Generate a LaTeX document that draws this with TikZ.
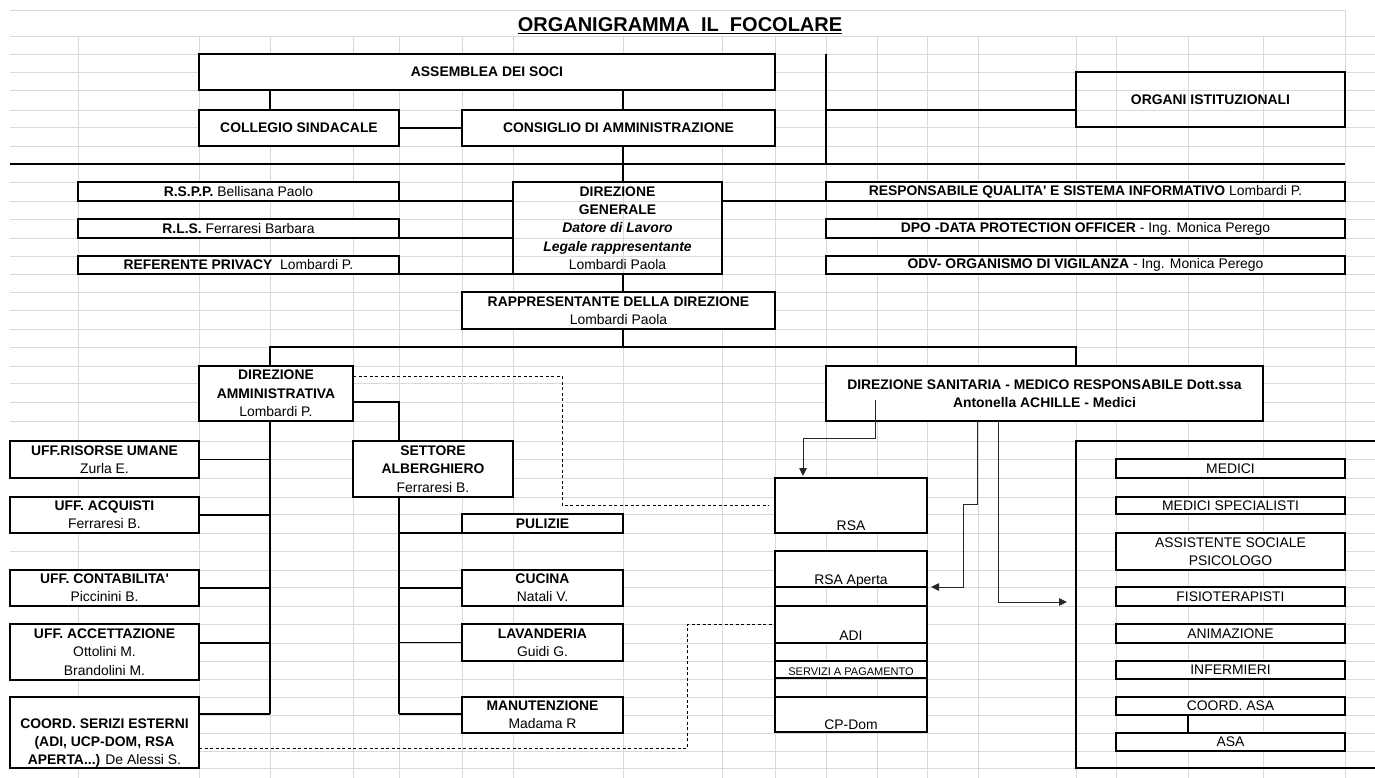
\documentclass[tikz,border=0pt]{standalone}
\usepackage{fontspec}
\setmainfont{Liberation Sans}
\usetikzlibrary{positioning, arrows.meta}
\newcommand{\cellfont}{\fontsize{13.9}{18.3}\selectfont}
\newcommand{\q}{\textquotesingle}

\tikzset{
  cell/.style={draw, fill=white, line width=1.1pt, inner sep=0pt, outer sep=0pt,
               anchor=north west, align=center, font=\cellfont},
  wh/.style 2 args={minimum width=#1pt, minimum height=#2pt},
  heavy/.style={cell, line width=2pt},
  bare/.style={fill=none},
  every label/.style={font=\cellfont, inner sep=0pt, align=center},
  bot/.style={label={[anchor=base, yshift=3pt]south:#1}},
  link/.style={line width=1.1pt},
  arr/.style={line width=0.9pt, black!85, -{Triangle[length=8pt, width=7.5pt]}},
  dsh/.style={line width=0.9pt, dash pattern=on 3pt off 2.5pt},
  gridln/.style={draw=black!15, line width=0.9pt}
}

\begin{document}
\begin{tikzpicture}[x=1pt, y=-1pt]
    \useasboundingbox (0,0) rectangle (1375,778);
    % sheet grid
    \foreach \gx in {78,199,270,353,399,462,513,623,722,775,826,877,927,978,1076,1116,1188,1263}
        \draw[gridln] (\gx,36) -- (\gx,778);
    \draw[gridln] (1345,10) -- (1345,778);
    \draw[gridln] (10,10) -- (1345,10);
    \foreach \gy in {36,54,72,90,110,127,146,182,201,219,238,256,274,292,310,329,347,366,383,402,421,441,459,478,497,514,533,551,570,587,606,624,643,661,679,697,715,733,751,768}
        \draw[gridln] (10,\gy) -- (1375,\gy);

    % title
    \node (title) [font=\fontsize{20}{24}\selectfont\bfseries, inner sep=0pt, anchor=base] at (680,31.7) {ORGANIGRAMMA\ \ IL\ \ FOCOLARE};
    \draw[line width=1.5pt] ([yshift=-1.8pt]title.base west) -- ([yshift=-1.8pt]title.base east);

    % organi istituzionali
    \node (asm) [heavy, wh={576}{36}] at (199,54) {\textbf{ASSEMBLEA DEI SOCI}};
    \node (coll) [cell, wh={200}{36}] at (199,110) {\textbf{COLLEGIO SINDACALE}};
    \node (cda) [heavy, wh={313}{36}, right=63pt of coll] {\textbf{CONSIGLIO DI AMMINISTRAZIONE}};
    \node (org) [cell, bare, wh={269}{55}] at (1076,72) {\textbf{ORGANI ISTITUZIONALI}};

    % direzione generale and staff
    \node (dg) [cell, bare, wh={209}{92}] at (513,182) {\textbf{DIREZIONE}\\\textbf{GENERALE}\\\textbf{\textit{Datore di Lavoro}}\\\textbf{\textit{Legale rappresentante}}\\Lombardi Paola};
    \node (rspp) [cell, wh={321}{19}] at (78,182) {\textbf{R.S.P.P.} Bellisana Paolo};
    \node (rls) [cell, wh={321}{19}, below=18pt of rspp] {\textbf{R.L.S.} Ferraresi Barbara};
    \node (ref) [cell, wh={321}{18}, below=18pt of rls] {\textbf{REFERENTE PRIVACY}\ \ Lombardi P.};
    \node (resp) [cell, wh={519}{19}] at (826,182) {\textbf{RESPONSABILE QUALITA\q{} E SISTEMA INFORMATIVO} Lombardi P.};
    \node (dpo) [cell, wh={519}{19}, below=18pt of resp] {\textbf{DPO -DATA PROTECTION OFFICER} - Ing. Monica Perego};
    \node (odv) [cell, wh={519}{18}, below=18pt of dpo] {\textbf{ODV- ORGANISMO DI VIGILANZA} - Ing. Monica Perego};
    \node (rapp) [cell, wh={313}{37}] at (462,292) {\textbf{RAPPRESENTANTE DELLA DIREZIONE}\\Lombardi Paola};

    % direzioni
    \node (damm) [heavy, wh={154}{55}] at (199,366) {\textbf{DIREZIONE}\\\textbf{AMMINISTRATIVA}\\Lombardi P.};
    \node (dsan) [heavy, wh={437}{55}] at (826,366) {\textbf{DIREZIONE SANITARIA - MEDICO RESPONSABILE Dott.ssa}\\\textbf{Antonella ACHILLE - Medici}};

    % uffici
    \node (ufris) [cell, wh={189}{37}] at (10,441) {\textbf{UFF.RISORSE UMANE}\\Zurla E.};
    \node (ufacq) [cell, wh={189}{36}] at (10,497) {\textbf{UFF. ACQUISTI}\\Ferraresi B.};
    \node (ufcont) [cell, wh={189}{36}] at (10,570) {\textbf{UFF. CONTABILITA\q}\\Piccinini B.};
    \node (ufacc) [cell, wh={189}{56}] at (10,624) {\textbf{UFF. ACCETTAZIONE}\\Ottolini M.\\Brandolini M.};
    \node (coord) [cell, wh={189}{71}, label={[anchor=south]south:{\textbf{COORD. SERIZI ESTERNI}\\\textbf{(ADI, UCP-DOM, RSA}\\\textbf{APERTA...)} De Alessi S.}}] at (10,697) {};

    % settore alberghiero
    \node (sett) [cell, wh={160}{56}] at (353,441) {\textbf{SETTORE}\\\textbf{ALBERGHIERO}\\Ferraresi B.};
    \node (pul) [cell, wh={161}{19}] at (462,514) {\textbf{PULIZIE}};
    \node (cuc) [cell, wh={161}{36}] at (462,570) {\textbf{CUCINA}\\Natali V.};
    \node (lav) [cell, wh={161}{37}] at (462,624) {\textbf{LAVANDERIA}\\Guidi G.};
    \node (man) [cell, wh={161}{36}] at (462,697) {\textbf{MANUTENZIONE}\\Madama R};

    % servizi
    \node (rsa) [heavy, wh={152}{55}, bot=RSA] at (775,478) {};
    \node (rsaap) [cell, wh={152}{36}, bot=RSA Aperta] at (775,551) {};
    \node (adi) [cell, wh={152}{37}, bot=ADI] at (775,606) {};
    \node (serv) [cell, wh={152}{17}, label={[anchor=base, yshift=2.5pt, font=\fontsize{11}{13}\selectfont]south:SERVIZI A PAGAMENTO}] at (775,661) {};
    \node (cpdom) [cell, wh={152}{35}, bot=CP-Dom] at (775,697) {};
    \draw[line width=2pt] (rsaap.north west) rectangle (cpdom.south east);

    % area sanitaria
    \node (medbox) [heavy, bare, wh={330}{327}] at (1076,441) {};
    \node (med) [cell, wh={229}{19}] at (1116,459) {MEDICI};
    \node (medsp) [cell, wh={229}{17}] at (1116,497) {MEDICI SPECIALISTI};
    \node (ass) [cell, wh={229}{37}] at (1116,533) {ASSISTENTE SOCIALE\\PSICOLOGO};
    \node (fis) [cell, wh={229}{19}] at (1116,587) {FISIOTERAPISTI};
    \node (anim) [cell, wh={229}{19}] at (1116,624) {ANIMAZIONE};
    \node (inf) [cell, wh={229}{18}] at (1116,661) {INFERMIERI};
    \node (casa) [cell, wh={229}{18}] at (1116,697) {COORD. ASA};
    \node (asa) [cell, wh={229}{18}] at (1116,733) {ASA};

    % junction points
    \coordinate (spC) at (623,0);
    \coordinate (spL) at (270,714);
    \coordinate (spR) at (399,714);
    \coordinate (bL) at (270,347);
    \coordinate (bR) at (1076,347);
    \coordinate (oTop) at (826,54);
    \coordinate (oBot) at (826,164);
    \coordinate (oJ) at (826,110);
    \coordinate (sepL) at (10,164);
    \coordinate (sepR) at (1345,164);
    \coordinate (casaJ) at (1188,0);

    % solid links
    \draw[link] (sepL) -- (sepR);
    \draw[link] (oTop) -- (oBot);
    \draw[link] (oJ) -- (oJ -| org.west);
    \draw[link] (asm.south -| spL) -- (coll.north -| spL);
    \draw[link] (asm.south -| spC) -- (cda.north -| spC);
    \draw[link] (coll.east) -- (cda.west);
    \draw[link] (cda.south -| spC) -- (dg.north -| spC);
    \draw[link] (rspp.south east) -- (rspp.south east -| dg.west);
    \draw[link] (rls.south east) -- (rls.south east -| dg.west);
    \draw[link] (ref.south east) -- (ref.south east -| dg.west);
    \draw[link] (resp.south west) -- (resp.south west -| dg.east);
    \draw[link] (dg.south -| spC) -- (rapp.north -| spC);
    \draw[link] (rapp.south -| spC) -- (bL -| spC);
    \draw[link] (damm.north -| bL) -- (bL) -- (bR) -- (dsan.north -| bR);
    \draw[link] (damm.south -| spL) -- (spL);
    \draw[link] (ufris.east) -- (ufris.east -| spL);
    \draw[link] (ufacq.east) -- (ufacq.east -| spL);
    \draw[link] (ufcont.east) -- (ufcont.east -| spL);
    \draw[link] ([yshift=9pt]ufacc.east) -- ([yshift=9pt]ufacc.east -| spL);
    \draw[link] (spL) -- (spL -| coord.east);
    \draw[link] ([yshift=19pt]damm.south east) -| (sett.north -| spR);
    \draw[link] (sett.south -| spR) -- (spR);
    \draw[link] (pul.south west) -- (pul.south west -| spR);
    \draw[link] (cuc.west) -- (cuc.west -| spR);
    \draw[link] (lav.west) -- (lav.west -| spR);
    \draw[link] (spR) -- (spR -| man.west);
    \draw[link] (casa.south -| casaJ) -- (asa.north -| casaJ);

    % arrows from direzione sanitaria
    \coordinate (a1s) at (875,400);
    \coordinate (a1k) at (875,438);
    \coordinate (a2a) at (977,504);
    \coordinate (a2b) at (963,587);
    \coordinate (a3k) at (998,602);
    \draw[arr, shorten >=2pt] (a1s) -- (a1k) -| ([xshift=28pt]rsa.north west);
    \draw[arr, shorten >=4pt] (dsan.south -| a2a) -- (a2a) -| (a2b) -- (rsaap.south east);
    \draw[arr, shorten >=9pt] (dsan.south -| a3k) -- (a3k) -- (a3k -| medbox.west);

    % dashed links
    \coordinate (d1k) at (562,480);
    \coordinate (d2k) at (687,700);
    \draw[dsh, shorten >=6pt] ([yshift=-10pt]damm.north east) -| (d1k) |- (rsa.west);
    \draw[dsh, shorten >=3pt] ([yshift=20pt]coord.south east) -| (d2k) |- (adi.west);
\end{tikzpicture}
\end{document}
